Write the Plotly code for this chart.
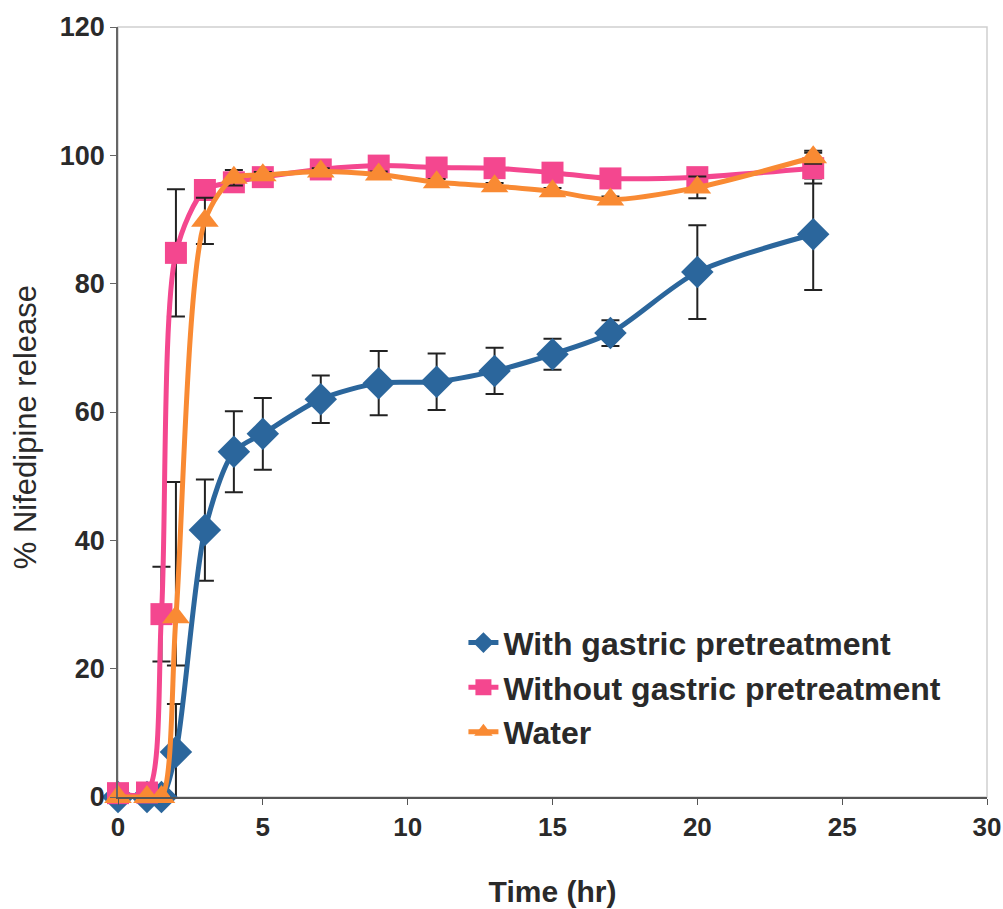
import plotly.graph_objects as go

# ---- data ----
time_hr = [0, 1, 1.5, 2, 3, 4, 5, 7, 9, 11, 13, 15, 17, 20, 24]

with_gastric = [0, 0, 0, 7.0, 41.6, 53.8, 56.6, 62.0, 64.5, 64.7, 66.4, 69.0, 72.3, 81.8, 87.7]
with_gastric_err = [0, 0, 0.8, 7.5, 7.9, 6.3, 5.6, 3.7, 5.0, 4.4, 3.6, 2.4, 2.0, 7.3, 8.7]

without_gastric = [0.6, 0.7, 28.5, 84.8, 94.6, 95.8, 96.6, 97.8, 98.4, 98.1, 98.0, 97.3, 96.4, 96.6, 98.0]
without_gastric_err = [0, 0, 7.4, 9.9, 0.5, 0.5, 0.5, 0.5, 0.5, 0.5, 0.5, 0.5, 0.5, 0.5, 2.4]

water = [0, 0, 0, 28.0, 89.8, 96.5, 96.9, 97.5, 97.0, 95.8, 95.2, 94.4, 93.1, 95.0, 99.7]
water_err_plus = [0, 0, 0, 21.1, 3.6, 1.2, 0.5, 0.5, 0.5, 0.5, 0.5, 0.5, 0.5, 1.7, 1.0]
water_err_minus = [0, 0, 0, 7.5, 3.6, 1.2, 0.5, 0.5, 0.5, 0.5, 0.5, 0.5, 0.5, 1.7, 1.0]

series_names = ["With gastric pretreatment", "Without gastric pretreatment", "Water"]
x_ticks = [0, 5, 10, 15, 20, 25, 30]
y_ticks = [0, 20, 40, 60, 80, 100, 120]

BLUE = "#2B669C"
PINK = "#F4478F"
ORANGE = "#F98A33"
ERR = "#222222"
FONT = "Liberation Sans, Arial, sans-serif"

fig = go.Figure()

def add(y, name, color, symbol, size, plus, minus):
    fig.add_trace(go.Scatter(
        x=time_hr, y=y, name=name, mode="lines+markers",
        line=dict(color=color, width=5, shape="spline", smoothing=0.8),
        marker=dict(color=color, symbol=symbol, size=size, line=dict(width=0)),
        error_y=dict(type="data", symmetric=False, array=plus, arrayminus=minus,
                     color=ERR, thickness=2, width=9),
        cliponaxis=False,
    ))

add(with_gastric, series_names[0], BLUE, "diamond", 25, with_gastric_err, with_gastric_err)
add(without_gastric, series_names[1], PINK, "square", 22, without_gastric_err, without_gastric_err)
add(water, series_names[2], ORANGE, "triangle-up", 24, water_err_plus, water_err_minus)

fig.update_layout(
    width=1003, height=909,
    margin=dict(l=118, r=16, t=27, b=112),
    paper_bgcolor="white", plot_bgcolor="white",
    font=dict(family=FONT, color="#2a2a2a"),
    showlegend=True,
    legend=dict(x=0.3975, y=0.236, xanchor="left", yanchor="top",
                bgcolor="rgba(0,0,0,0)",
                font=dict(family=FONT, size=32, color="#2a2a2a", weight="bold")),
    shapes=[dict(type="rect", xref="paper", yref="paper", x0=0, y0=0, x1=1, y1=1,
                 line=dict(color="#cfcfcf", width=1.5), layer="below")],
    annotations=[dict(text="% Nifedipine release", textangle=-90,
                      xref="paper", yref="paper", x=-0.106, y=0.48,
                      xanchor="center", yanchor="middle", showarrow=False,
                      font=dict(family=FONT, size=31, color="#2a2a2a"))],
)

fig.update_xaxes(
    range=[0, 30], tickvals=x_ticks, ticktext=[str(v) for v in x_ticks],
    showgrid=False, zeroline=False, automargin=False,
    showline=True, linecolor="#555555", linewidth=1.5,
    ticks="outside", ticklen=6, tickcolor="#555555",
    tickfont=dict(family=FONT, size=26, color="#2a2a2a", weight="bold"),
    title=dict(text="Time (hr)", font=dict(family=FONT, size=30, color="#2a2a2a", weight="bold"), standoff=40),
)
fig.update_yaxes(
    range=[0, 120], tickvals=y_ticks, ticktext=[str(v) for v in y_ticks],
    showgrid=False, zeroline=False, automargin=False,
    showline=True, linecolor="#666666", linewidth=1.5,
    ticks="outside", ticklen=6, tickcolor="#666666",
    tickfont=dict(family=FONT, size=27, color="#2a2a2a", weight="bold"),
)

fig.write_html("out.html", config={"displayModeBar": False},
               post_script="document.body.style.margin='0';document.body.style.overflow='hidden';")
